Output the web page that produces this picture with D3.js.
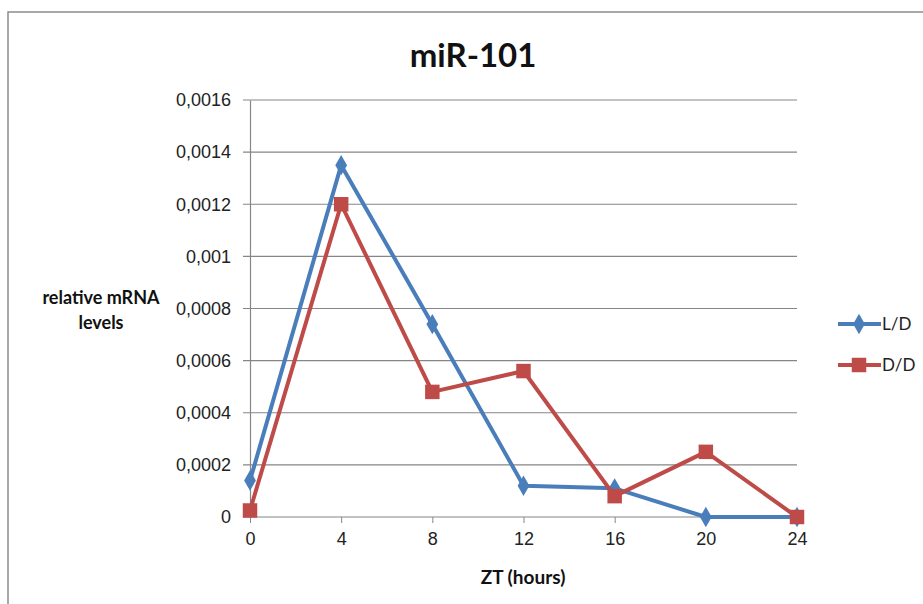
<!DOCTYPE html>
<html>
<head>
<meta charset="utf-8">
<script src="https://cdn.jsdelivr.net/npm/d3@7"></script>
<style>
  body { margin: 0; background: #fff; }
  svg { font-family: Lato, "Open Sans", sans-serif; }
</style>
</head>
<body>
<svg id="chart" width="923" height="604"></svg>
<script>
// data
const hours = [0, 4, 8, 12, 16, 20, 24];
const lightDark = [0.00014, 0.00135, 0.00074, 0.00012, 0.00011, 0, 0];
const darkDark = [0.000025, 0.0012, 0.00048, 0.00056, 0.00008, 0.00025, 0];
const yTicks = [0, 0.0002, 0.0004, 0.0006, 0.0008, 0.001, 0.0012, 0.0014, 0.0016];
const yTickLabels = ['0', '0,0002', '0,0004', '0,0006', '0,0008', '0,001', '0,0012', '0,0014', '0,0016'];

const series = [
  {name: 'L/D', values: lightDark, color: '#4a7ebb', symbol: d3.symbolDiamond, size: 120},
  {name: 'D/D', values: darkDark, color: '#be4b48', symbol: d3.symbolSquare, size: 210}
];

const svg = d3.select('#chart');

// outer chart border
svg.append('rect')
  .attr('x', 8).attr('y', 12)
  .attr('width', 930).attr('height', 610)
  .attr('fill', '#fff')
  .attr('stroke', '#8c8c8c')
  .attr('stroke-width', 1.5);

const margin = {top: 100, left: 250};
const width = 547;
const height = 417;

const x = d3.scaleLinear().domain([0, 24]).range([0, width]);
const y = d3.scaleLinear().domain([0, 0.0016]).range([height, 0]);

const g = svg.append('g')
  .attr('transform', 'translate(' + margin.left + ',' + margin.top + ')');

// horizontal grid lines
g.append('g')
  .selectAll('line')
  .data(yTicks)
  .enter().append('line')
  .attr('x1', -7).attr('x2', width)
  .attr('y1', (d) => y(d)).attr('y2', (d) => y(d))
  .attr('stroke', '#868686')
  .attr('stroke-width', 1.2);

// y axis
const yAxis = g.append('g')
  .call(d3.axisLeft(y).tickValues(yTicks).tickSize(0).tickPadding(19)
    .tickFormat((d, i) => yTickLabels[i]));
yAxis.select('.domain').attr('stroke', '#868686').attr('stroke-width', 1.2);
yAxis.selectAll('text').attr('font-size', 18).attr('fill', '#222');

// x axis
const xAxis = g.append('g')
  .attr('transform', 'translate(0,' + height + ')')
  .call(d3.axisBottom(x).tickValues(hours).tickSize(6).tickPadding(9));
xAxis.select('.domain').remove();
xAxis.selectAll('line').attr('stroke', '#868686');
xAxis.selectAll('text').attr('font-size', 18).attr('fill', '#222');

const line = d3.line()
  .x((d, i) => x(hours[i]))
  .y((d) => y(d));

series.forEach((s) => {
  g.append('path')
    .datum(s.values)
    .attr('fill', 'none')
    .attr('stroke', s.color)
    .attr('stroke-width', 4)
    .attr('stroke-linejoin', 'round')
    .attr('d', line);

  g.append('g')
    .selectAll('path')
    .data(s.values)
    .enter().append('path')
    .attr('transform', (d, i) => 'translate(' + x(hours[i]) + ',' + y(d) + ')')
    .attr('d', d3.symbol().type(s.symbol).size(s.size))
    .attr('fill', s.color);
});

// title
svg.append('text')
  .attr('x', 473).attr('y', 67)
  .attr('text-anchor', 'middle')
  .attr('font-size', 33)
  .attr('font-weight', 'bold')
  .attr('fill', '#111')
  .text('miR-101');

// y axis title
const yTitle = svg.append('text')
  .attr('text-anchor', 'middle')
  .attr('font-size', 18)
  .attr('font-weight', 'bold')
  .attr('fill', '#111');
yTitle.append('tspan').attr('x', 101).attr('y', 304).text('relative mRNA');
yTitle.append('tspan').attr('x', 101).attr('y', 329).text('levels');

// x axis title
svg.append('text')
  .attr('x', 523).attr('y', 584)
  .attr('text-anchor', 'middle')
  .attr('font-size', 19)
  .attr('font-weight', 'bold')
  .attr('fill', '#111')
  .text('ZT (hours)');

// legend
const legend = svg.append('g')
  .selectAll('g')
  .data(series)
  .enter().append('g')
  .attr('transform', (d, i) => 'translate(838,' + (324 + i * 41) + ')');

legend.append('line')
  .attr('x1', 0).attr('x2', 43)
  .attr('stroke', (d) => d.color)
  .attr('stroke-width', 4);

legend.append('path')
  .attr('transform', 'translate(21,0)')
  .attr('d', (d) => d3.symbol().type(d.symbol).size(d.size)())
  .attr('fill', (d) => d.color);

legend.append('text')
  .attr('x', 44).attr('y', 6)
  .attr('font-size', 17)
  .attr('fill', '#222')
  .text((d) => d.name);
</script>
</body>
</html>
